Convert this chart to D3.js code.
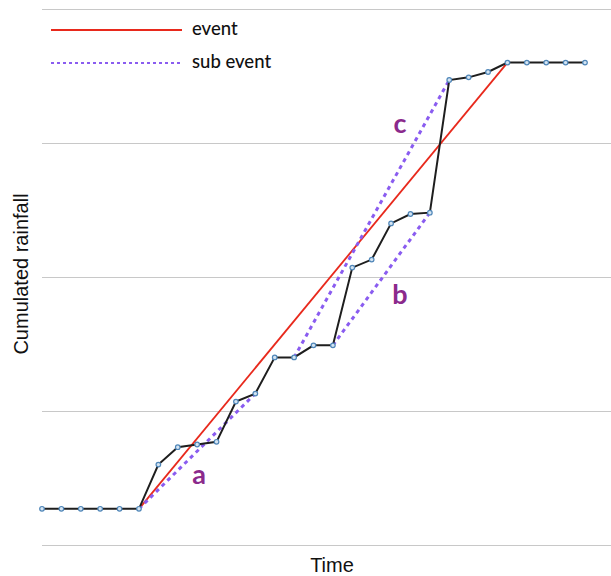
<!DOCTYPE html>
<html>
<head>
<meta charset="utf-8">
<script src="https://cdn.jsdelivr.net/npm/d3@7"></script>
<style>
  body { margin: 0; background: #fff; }
  svg { display: block; }
</style>
</head>
<body>
<script>
// cumulated rainfall per time step (index = time step)
var rainfall = [2.7, 2.7, 2.7, 2.7, 2.7, 2.7, 6.0, 7.3, 7.5, 7.7, 10.7, 11.3, 14.0, 14.0,
  14.9, 14.9, 20.7, 21.3, 24.0, 24.7, 24.8, 34.7, 34.9, 35.3, 36.0, 36.0, 36.0, 36.0, 36.0];
var gridValues = [0, 10, 20, 30, 40];

// event = start/end step, sub events = start/end step + label
var event = [5, 24];
var subEvents = [
  { name: 'a', from: 5,  to: 11 },
  { name: 'b', from: 15, to: 20 },
  { name: 'c', from: 13, to: 21 }
];
var legendItems = ['event', 'sub event'];

const W = 611, H = 576;
const LEFT = 42, RIGHT = 611;

var svg = d3.select('body').append('svg')
  .attr('width', W)
  .attr('height', H);

var x = d3.scaleLinear().domain([0, rainfall.length - 1]).range([LEFT, 585]);
var y = d3.scaleLinear().domain([0, 40]).range([545, 9]);

// horizontal grid
svg.append('g').selectAll('line')
  .data(gridValues)
  .join('line')
    .attr('x1', LEFT)
    .attr('x2', RIGHT)
    .attr('y1', d => y(d) + 0.5)
    .attr('y2', d => y(d) + 0.5)
    .attr('stroke', '#c8c8c8')
    .attr('stroke-width', 1.2);

// event line
svg.append('line')
  .attr('x1', x(event[0])).attr('y1', y(rainfall[event[0]]))
  .attr('x2', x(event[1])).attr('y2', y(rainfall[event[1]]))
  .attr('stroke', '#e8291c')
  .attr('stroke-width', 1.8);

// sub events
svg.append('g').selectAll('line')
  .data(subEvents)
  .join('line')
    .attr('x1', d => x(d.from)).attr('y1', d => y(rainfall[d.from]))
    .attr('x2', d => x(d.to)).attr('y2', d => y(rainfall[d.to]))
    .attr('stroke', '#8a5cf0')
    .attr('stroke-width', 3)
    .attr('stroke-dasharray', '4,4');

// rainfall curve
var line = d3.line()
  .x((d, i) => x(i))
  .y(d => y(d));

svg.append('path')
  .datum(rainfall)
  .attr('d', line)
  .attr('fill', 'none')
  .attr('stroke', '#1e1e1e')
  .attr('stroke-width', 2);

svg.append('g').selectAll('circle')
  .data(rainfall)
  .join('circle')
    .attr('cx', (d, i) => x(i))
    .attr('cy', d => y(d))
    .attr('r', 2.3)
    .attr('fill', '#d4e4f2')
    .attr('stroke', '#4f86b8')
    .attr('stroke-width', 1.2);

// sub event labels
var labelPos = { a: [199, 484], b: [400, 304], c: [400, 133] };
svg.append('g').selectAll('text')
  .data(subEvents)
  .join('text')
    .attr('x', d => labelPos[d.name][0])
    .attr('y', d => labelPos[d.name][1])
    .attr('text-anchor', 'middle')
    .attr('font-family', 'Lato, sans-serif')
    .attr('font-weight', 'bold')
    .attr('font-size', 27)
    .attr('fill', '#8b2a8c')
    .text(d => d.name);

// legend
var legend = svg.append('g');
legendItems.forEach(function (name, i) {
  var ly = 30 + i * 33;
  legend.append('line')
    .attr('x1', 51).attr('x2', 182)
    .attr('y1', ly).attr('y2', ly)
    .attr('stroke', i === 0 ? '#e8291c' : '#8a5cf0')
    .attr('stroke-width', i === 0 ? 1.8 : 2)
    .attr('stroke-dasharray', i === 0 ? null : '3,3');
  legend.append('text')
    .attr('x', 192).attr('y', ly + 5)
    .attr('font-family', 'Lato, sans-serif')
    .attr('font-weight', 500)
    .attr('font-size', 18.5)
    .attr('fill', '#111')
    .text(name);
});

// axis titles
svg.append('text')
  .attr('transform', 'translate(28,274) rotate(-90)')
  .attr('text-anchor', 'middle')
  .attr('font-family', 'Liberation Sans, Arial, sans-serif')
  .attr('font-size', 20)
  .attr('fill', '#111')
  .text('Cumulated rainfall');

svg.append('text')
  .attr('x', 332).attr('y', 572)
  .attr('text-anchor', 'middle')
  .attr('font-family', 'Liberation Sans, Arial, sans-serif')
  .attr('font-size', 20)
  .attr('fill', '#111')
  .text('Time');
</script>
</body>
</html>
